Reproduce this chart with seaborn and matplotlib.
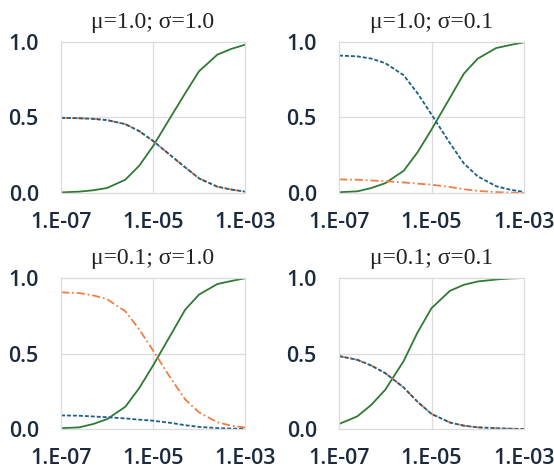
import matplotlib
matplotlib.use("Agg")
import matplotlib.pyplot as plt
import seaborn as sns
import pandas as pd

# ---- data ----
x_vals = [1e-7, 2.5e-7, 5e-7, 1e-6, 2.5e-6, 5e-6, 1e-5, 2.5e-5, 5e-5, 1e-4, 2.5e-4, 5e-4, 1e-3]

titles = ["μ=1.0; σ=1.0", "μ=1.0; σ=0.1", "μ=0.1; σ=1.0", "μ=0.1; σ=0.1"]

green_11 = [0.004, 0.009, 0.018, 0.033, 0.088, 0.18, 0.31, 0.51, 0.66, 0.806, 0.916, 0.954, 0.982]
blue_11 = [0.498, 0.495, 0.491, 0.483, 0.456, 0.41, 0.345, 0.245, 0.17, 0.097, 0.042, 0.023, 0.009]
orange_11 = [0.498, 0.495, 0.491, 0.483, 0.456, 0.41, 0.345, 0.245, 0.17, 0.097, 0.042, 0.023, 0.009]

green_12 = [0.005, 0.011, 0.033, 0.065, 0.147, 0.27, 0.42, 0.63, 0.79, 0.89, 0.96, 0.98, 0.998]
blue_12 = [0.91, 0.905, 0.89, 0.86, 0.78, 0.66, 0.52, 0.33, 0.196, 0.11, 0.045, 0.022, 0.007]
orange_12 = [0.09, 0.088, 0.083, 0.078, 0.07, 0.062, 0.055, 0.04, 0.025, 0.014, 0.006, 0.003, 0.001]

green_21 = [0.005, 0.011, 0.033, 0.065, 0.147, 0.27, 0.42, 0.63, 0.79, 0.89, 0.96, 0.98, 0.998]
blue_21 = [0.09, 0.088, 0.083, 0.078, 0.07, 0.062, 0.055, 0.04, 0.025, 0.014, 0.006, 0.003, 0.001]
orange_21 = [0.905, 0.9, 0.885, 0.86, 0.78, 0.66, 0.52, 0.33, 0.196, 0.11, 0.045, 0.022, 0.01]

green_22 = [0.033, 0.084, 0.16, 0.26, 0.45, 0.64, 0.80, 0.915, 0.955, 0.977, 0.99, 0.997, 1.0]
blue_22 = [0.483, 0.458, 0.42, 0.37, 0.275, 0.18, 0.10, 0.043, 0.022, 0.011, 0.005, 0.002, 0.0]
orange_22 = [0.483, 0.458, 0.42, 0.37, 0.275, 0.18, 0.10, 0.043, 0.022, 0.011, 0.005, 0.002, 0.0]

panels = [
    (green_11, orange_11, blue_11),
    (green_12, orange_12, blue_12),
    (green_21, orange_21, blue_21),
    (green_22, orange_22, blue_22),
]

xtick_vals = [1e-7, 1e-5, 1e-3]
xtick_labels = ["1.E-07", "1.E-05", "1.E-03"]
ytick_vals = [0.0, 0.5, 1.0]
ytick_labels = ["0.0", "0.5", "1.0"]

# ---- style ----
sns.set_theme(style="white")
plt.rcParams["font.family"] = ["Open Sans", "DejaVu Sans"]

GREEN = "#2f7a34"
ORANGE = "#f07e45"
BLUE = "#1d5f85"
GRID = "#dcdcdc"
TXT = "#1c2a3e"

W, H = 554, 473
fig = plt.figure(figsize=(W / 100, H / 100), dpi=100)
fig.patch.set_facecolor("white")

boxes = [(61, 42, 245, 193), (339, 42, 524, 193), (61, 278, 245, 429), (339, 278, 524, 429)]

for (l, t, r, b), title, (g, o, bl) in zip(boxes, titles, panels):
    ax = fig.add_axes([l / W, (H - b) / H, (r - l) / W, (b - t) / H])
    df = pd.DataFrame({"x": x_vals, "g": g, "o": o, "b": bl})
    sns.lineplot(data=df, x="x", y="g", ax=ax, color=GREEN, lw=1.3)
    sns.lineplot(data=df, x="x", y="o", ax=ax, color=ORANGE, lw=1.3)
    sns.lineplot(data=df, x="x", y="b", ax=ax, color=BLUE, lw=1.3)
    lines = ax.get_lines()
    lines[1].set_dashes([4.5, 1.6, 1.0, 1.6])
    lines[2].set_dashes([2.2, 1.1])
    ax.set_xscale("log")
    ax.set_xlim(1e-7, 1e-3)
    ax.set_ylim(0, 1)
    ax.set_xticks(xtick_vals)
    ax.set_xticklabels(xtick_labels)
    ax.set_yticks(ytick_vals)
    ax.set_yticklabels(ytick_labels)
    ax.minorticks_off()
    ax.set_xlabel("")
    ax.set_ylabel("")
    ax.axvline(1e-5, color=GRID, lw=0.9, zorder=0)
    ax.axhline(0.5, color=GRID, lw=0.9, zorder=0)
    for sp in ax.spines.values():
        sp.set_visible(True)
        sp.set_color(GRID)
        sp.set_linewidth(0.9)
    ax.tick_params(axis="both", length=0, labelsize=15.5, labelcolor=TXT)
    ax.tick_params(axis="x", pad=14)
    ax.tick_params(axis="y", pad=16)
    for lab in ax.get_xticklabels() + ax.get_yticklabels():
        lab.set_fontweight("semibold")
    ax.set_title(title, family=["Liberation Serif", "DejaVu Serif"], fontsize=17,
                 color="#222222", pad=10)

fig.savefig("out.png", dpi=100, facecolor="white")
